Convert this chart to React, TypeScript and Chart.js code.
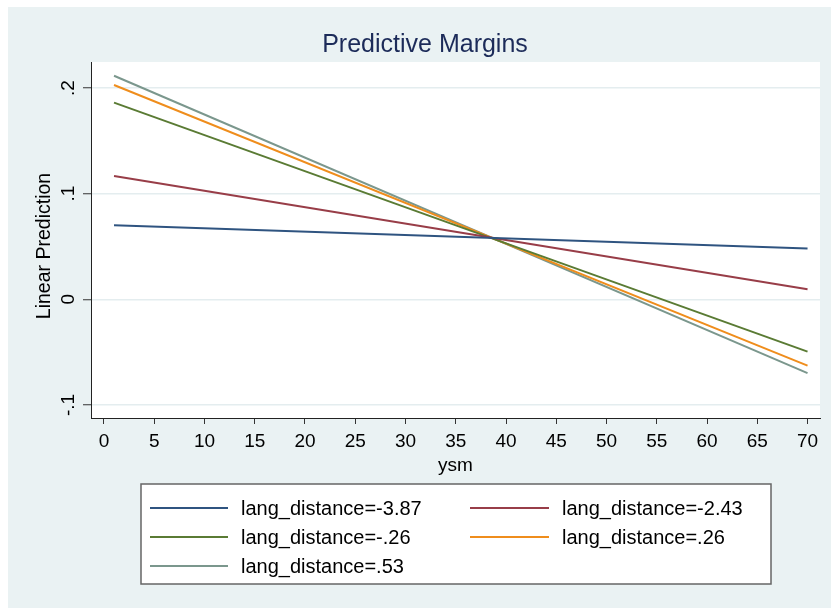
import React, { useEffect, useRef } from 'react';
import { Chart, registerables } from 'chart.js';

Chart.register(...registerables);

const chartTitle = 'Predictive Margins';
const xAxisTitle = 'ysm';
const yAxisTitle = 'Linear Prediction';

const xValues = [1, 70];
const seriesLabels = [
  'lang_distance=-3.87',
  'lang_distance=-2.43',
  'lang_distance=-.26',
  'lang_distance=.26',
  'lang_distance=.53',
];
const seriesA = [0.07, 0.048];
const seriesB = [0.1167, 0.0096];
const seriesC = [0.1861, -0.0495];
const seriesD = [0.2028, -0.0627];
const seriesE = [0.2116, -0.0699];
const seriesColors = ['#2f5480', '#983d48', '#5a7b34', '#ef8d1c', '#7b978d'];

const xTickValues = [0, 5, 10, 15, 20, 25, 30, 35, 40, 45, 50, 55, 60, 65, 70];
const yTickValues = [-0.1, 0, 0.1, 0.2];
const yTickLabels = ['-.1', '0', '.1', '.2'];

const FONT = "'Liberation Sans', Arial, Helvetica, sans-serif";

export default function App() {
  const ref = useRef<HTMLCanvasElement>(null);

  useEffect(() => {
    const canvas = ref.current!;
    const allSeries = [seriesA, seriesB, seriesC, seriesD, seriesE];
    const datasets = allSeries.map((s, i) => ({
      label: seriesLabels[i],
      data: xValues.map((x, j) => ({ x, y: s[j] })),
      borderColor: seriesColors[i],
      backgroundColor: seriesColors[i],
      borderWidth: 2,
      pointRadius: 0,
      fill: false,
      tension: 0,
    }));

    const decor = {
      id: 'decor',
      beforeDraw(chart: any) {
        const { ctx, chartArea } = chart;
        ctx.save();
        ctx.fillStyle = '#ffffff';
        ctx.fillRect(0, 0, 831, 608);
        ctx.fillStyle = '#eaf2f3';
        ctx.fillRect(8, 7, 823, 601);
        ctx.fillStyle = '#ffffff';
        ctx.fillRect(chartArea.left, chartArea.top, chartArea.right - chartArea.left, chartArea.bottom - chartArea.top);
        ctx.restore();
      },
      afterDraw(chart: any) {
        const { ctx } = chart;
        ctx.save();
        // title
        ctx.fillStyle = '#1c2b59';
        ctx.font = `25px ${FONT}`;
        ctx.textAlign = 'center';
        ctx.textBaseline = 'middle';
        ctx.fillText(chartTitle, 425, 45);

        // y axis title
        ctx.fillStyle = '#000';
        ctx.font = `19.5px ${FONT}`;
        ctx.save();
        ctx.translate(45, 246);
        ctx.rotate(-Math.PI / 2);
        ctx.textAlign = 'center';
        ctx.textBaseline = 'middle';
        ctx.fillText(yAxisTitle, 0, 0);
        ctx.restore();

        // rotated y tick labels
        const ys = chart.scales.y;
        ctx.font = `19px ${FONT}`;
        yTickValues.forEach((v, i) => {
          const py = ys.getPixelForValue(v);
          ctx.save();
          ctx.translate(69, py);
          ctx.rotate(-Math.PI / 2);
          ctx.textAlign = 'center';
          ctx.textBaseline = 'middle';
          ctx.fillText(yTickLabels[i], 0, 0);
          ctx.restore();
        });

        // legend
        const bl = 141, bt = 484, br = 771, bb = 584;
        ctx.fillStyle = '#ffffff';
        ctx.fillRect(bl, bt, br - bl, bb - bt);
        ctx.strokeStyle = '#666666';
        ctx.lineWidth = 1.5;
        ctx.strokeRect(bl, bt, br - bl, bb - bt);
        const cols = [
          { l0: 150, l1: 228, tx: 241 },
          { l0: 470, l1: 549, tx: 562 },
        ];
        const rows = [508, 537, 566];
        ctx.font = `20px ${FONT}`;
        ctx.textAlign = 'left';
        ctx.textBaseline = 'middle';
        chart.data.datasets.forEach((ds: any, i: number) => {
          const c = cols[i % 2];
          const y = rows[Math.floor(i / 2)];
          ctx.strokeStyle = ds.borderColor;
          ctx.lineWidth = 2;
          ctx.beginPath();
          ctx.moveTo(c.l0, y);
          ctx.lineTo(c.l1, y);
          ctx.stroke();
          ctx.fillStyle = '#000';
          ctx.fillText(ds.label, c.tx, y + 1);
        });
        ctx.restore();
      },
    };

    const chart = new Chart(canvas, {
      type: 'line',
      data: { datasets },
      options: {
        animation: false,
        responsive: false,
        maintainAspectRatio: false,
        layout: { padding: { top: 62, right: 11, bottom: 131, left: 0 } },
        plugins: {
          legend: { display: false },
          title: { display: false },
          tooltip: { enabled: false },
        },
        scales: {
          x: {
            type: 'linear',
            min: -1.29,
            max: 71.24,
            afterBuildTicks: (scale: any) => {
              scale.ticks = xTickValues.map((v) => ({ value: v }));
            },
            afterFit: (scale: any) => {
              scale.height = 59;
            },
            grid: {
              display: true,
              drawOnChartArea: false,
              drawTicks: true,
              tickLength: 6,
              tickColor: '#333',
              tickWidth: 1,
            },
            border: { display: true, color: '#222', width: 1 },
            ticks: {
              color: '#000',
              font: { size: 19, family: FONT },
              padding: 6,
              maxRotation: 0,
              autoSkip: false,
              callback: (v: any) => String(v),
            },
            title: {
              display: true,
              text: xAxisTitle,
              color: '#000',
              font: { size: 19, family: FONT },
              padding: { top: 0, bottom: 0 },
            },
          },
          y: {
            type: 'linear',
            min: -0.1123,
            max: 0.2246,
            afterBuildTicks: (scale: any) => {
              scale.ticks = yTickValues.map((v) => ({ value: v }));
            },
            afterFit: (scale: any) => {
              scale.width = 91;
            },
            grid: {
              display: true,
              drawOnChartArea: true,
              drawTicks: true,
              color: '#e4edef',
              lineWidth: 1.5,
              tickLength: 8,
              tickColor: '#333',
              tickWidth: 1,
            },
            border: { display: true, color: '#222', width: 1 },
            ticks: { display: false },
            title: { display: false },
          },
        },
      },
      plugins: [decor],
    } as any);

    return () => chart.destroy();
  }, []);

  return (
    <div style={{ position: 'absolute', left: 0, top: 0, width: 831, height: 608 }}>
      <canvas ref={ref} width={831} height={608} style={{ width: 831, height: 608, display: 'block' }} />
    </div>
  );
}
